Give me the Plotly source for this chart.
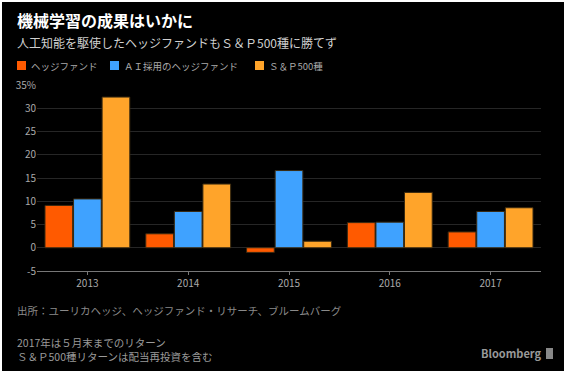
import plotly.graph_objects as go

years = ["2013", "2014", "2015", "2016", "2017"]
hedge = [9.1, 3.0, -1.0, 5.4, 3.4]
ai_hedge = [10.5, 7.8, 16.6, 5.5, 7.8]
sp500 = [32.4, 13.7, 1.4, 11.9, 8.6]
series_names = ["ヘッジファンド", "ＡＩ採用のヘッジファンド", "Ｓ＆Ｐ500種"]
y_tickvals = [-5, 0, 5, 10, 15, 20, 25, 30, 35]
y_ticktext = ["-5", "0", "5", "10", "15", "20", "25", "30", "35%"]

W, H = 568, 377
ML, MR, MT, MB = 37, 27, 85, 106
PW, PH = W - ML - MR, H - MT - MB

def px_x(x):
    return (x - ML) / PW

def px_y(y):
    return (H - MB - y) / PH

FONT = "Noto Sans CJK JP"
colors = ["#FF5A00", "#3FA2FF", "#FFA42A"]

fig = go.Figure()
for name, vals, c in zip(series_names, [hedge, ai_hedge, sp500], colors):
    fig.add_trace(go.Bar(x=years, y=vals, name=name, showlegend=False,
                         marker=dict(color=c, line=dict(color="#3a2a10", width=1))))

shapes = [dict(type="rect", xref="paper", yref="paper", x0=px_x(2), x1=px_x(564), y0=px_y(371), y1=px_y(2),
               fillcolor="black", line=dict(width=0), layer="below"),
          dict(type="rect", xref="paper", yref="paper", x0=px_x(546), x1=px_x(553), y0=px_y(359), y1=px_y(348),
               fillcolor="#888888", line=dict(width=0))]

fig.update_layout(
    width=W, height=H,
    margin=dict(l=ML, r=MR, t=MT, b=MB, autoexpand=False),
    paper_bgcolor="white", plot_bgcolor="black",
    barmode="group", bargap=0.15, bargroupgap=0.03,
    font=dict(family=FONT, color="#aaaaaa", size=10),
    showlegend=False,
    xaxis=dict(showgrid=False, showline=True, linecolor="#777777", linewidth=1,
               ticks="outside", ticklen=3, tickcolor="#777777",
               tickfont=dict(size=10, color="#aaaaaa"), fixedrange=True),
    yaxis=dict(range=[-5, 35], tickvals=y_tickvals, ticktext=y_ticktext, showgrid=True,
               gridcolor="#262626", gridwidth=1, zeroline=False, showline=False,
               tickfont=dict(size=10, color="#aaaaaa"), ticks="", fixedrange=True),
)

def note(text, x, y, size, color, bold=False, anchor="left"):
    fig.add_annotation(text=f"<b>{text}</b>" if bold else text, xref="paper", yref="paper",
                       x=px_x(x), y=px_y(y), xanchor=anchor, yanchor="middle", showarrow=False,
                       font=dict(size=size, color=color, family=FONT), align="left")

# legend (swatch + label) in the header row
legend_x = [17, 110, 255]
for name, c, lx in zip(series_names, colors, legend_x):
    shapes.append(dict(type="rect", xref="paper", yref="paper", x0=px_x(lx), x1=px_x(lx + 9),
                       y0=px_y(70), y1=px_y(61), fillcolor=c, line=dict(width=0)))
    note(name, lx + 12, 66, 9.5, "#aaaaaa")
fig.update_layout(shapes=shapes)

note("機械学習の成果はいかに", 15, 20, 16, "#ffffff", bold=True)
note("人工知能を駆使したヘッジファンドもＳ＆Ｐ500種に勝てず", 15, 43, 12, "#d0d0d0")
note("出所：ユーリカヘッジ、ヘッジファンド・リサーチ、ブルームバーグ", 15, 310, 10.5, "#8a8a8a")
note("2017年は５月末までのリターン<br>Ｓ＆Ｐ500種リターンは配当再投資を含む", 15, 349, 10.5, "#9a9a9a")
note("Bloomberg", 543, 353, 11, "#999999", bold=True, anchor="right")

fig.write_html("out.html", config={"displayModeBar": False},
               post_script="document.body.style.margin='0';document.body.style.background='white';")
